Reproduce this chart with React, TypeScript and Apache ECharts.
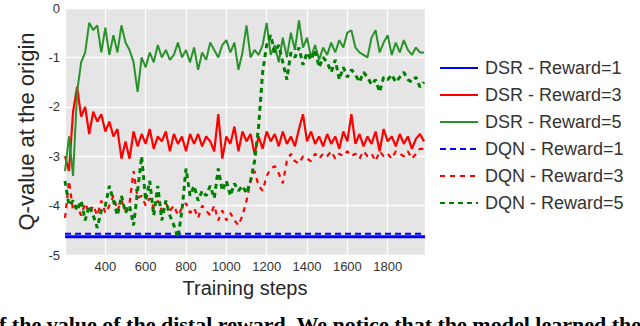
import React, { useEffect, useRef } from "react";
import * as echarts from "echarts";

const steps: number[] = [
  200, 220, 240, 260, 280, 300, 320, 340, 360, 380,
  400, 420, 440, 460, 480, 500, 520, 540, 560, 580,
  600, 620, 640, 660, 680, 700, 720, 740, 760, 780,
  800, 820, 840, 860, 880, 900, 920, 940, 960, 980,
  1000, 1020, 1040, 1060, 1080, 1100, 1120, 1140, 1160, 1180,
  1200, 1220, 1240, 1260, 1280, 1300, 1320, 1340, 1360, 1380,
  1400, 1420, 1440, 1460, 1480, 1500, 1520, 1540, 1560, 1580,
  1600, 1620, 1640, 1660, 1680, 1700, 1720, 1740, 1760, 1780,
  1800, 1820, 1840, 1860, 1880, 1900, 1920, 1940, 1960, 1980,
];

const dsrReward5: number[] = [
  -3.3, -2.6, -3.4, -1.7, -1.1, -0.9, -0.3, -0.45, -0.35, -0.9,
  -0.4, -0.95, -0.55, -0.9, -0.35, -0.7, -0.85, -1.1, -1.7, -1.0,
  -1.2, -0.9, -1.1, -0.75, -1.0, -0.85, -1.05, -0.95, -0.7, -1.0,
  -0.85, -1.1, -0.8, -1.25, -0.9, -1.05, -0.7, -0.85, -1.0, -0.75,
  -0.65, -0.9, -0.7, -1.25, -0.9, -0.35, -1.0, -0.85, -0.95, -0.75,
  -0.3, -0.95, -0.75, -1.1, -0.6, -1.0, -0.5, -0.85, -0.25, -0.8,
  -0.6, -1.0, -0.75, -1.05, -0.8, -0.95, -0.7, -0.9, -0.65, -0.8,
  -0.5, -0.45, -0.8, -0.9, -0.95, -1.0, -0.6, -0.45, -0.9, -0.7,
  -0.55, -0.95, -0.7, -0.9, -0.65, -0.85, -0.95, -0.8, -0.9, -0.9,
];

const dqnReward5: number[] = [
  -3.5, -4.0, -3.9, -4.1, -3.9, -4.3, -4.0, -4.2, -4.45, -4.1,
  -4.0, -3.6, -3.9, -4.2, -3.8, -4.15, -4.0, -4.4, -3.7, -3.0,
  -3.9, -3.5, -4.2, -3.6, -4.3, -3.9, -4.2, -4.4, -4.65, -4.1,
  -3.25, -3.8, -3.6, -3.9, -3.7, -3.8, -3.6, -3.85, -3.25, -3.7,
  -3.5, -3.8, -3.55, -3.7, -3.6, -3.75, -3.5, -3.1, -2.4, -1.3,
  -0.75, -0.55, -0.9, -0.75, -1.1, -1.45, -0.9, -1.0, -0.8, -1.15,
  -0.9, -1.05, -0.85, -1.2, -1.0, -1.1, -1.3, -1.05, -1.45, -1.2,
  -1.4, -1.25, -1.35, -1.5, -1.3, -1.4, -1.55, -1.45, -1.7, -1.4,
  -1.45, -1.35, -1.5, -1.4, -1.3, -1.45, -1.5, -1.4, -1.6, -1.5,
];

const dsrReward3: number[] = [
  -3.0, -3.3, -2.1, -1.6, -2.2, -2.0, -2.55, -2.1, -2.3, -2.15,
  -2.5, -2.3, -2.6, -2.45, -3.05, -2.7, -3.05, -2.5, -2.8, -2.55,
  -2.75, -2.45, -2.85, -2.6, -2.7, -2.5, -2.9, -2.55, -2.75, -2.6,
  -2.9, -2.55, -2.75, -2.55, -2.8, -2.6, -2.7, -2.9, -2.15, -3.05,
  -2.6, -2.75, -2.4, -2.9, -2.5, -2.7, -2.55, -2.95, -2.6, -2.85,
  -2.5, -2.7, -2.55, -2.8, -2.5, -2.75, -2.6, -2.8, -2.45, -2.15,
  -2.7, -2.5, -2.75, -2.6, -2.8, -2.55, -2.75, -2.6, -2.85, -2.5,
  -2.7, -2.15, -2.75, -2.55, -2.8, -2.6, -2.75, -2.5, -2.9, -2.45,
  -2.7, -2.6, -2.8, -2.55, -2.75, -2.6, -2.85, -2.65, -2.55, -2.7,
];

const dqnReward3: number[] = [
  -4.25, -3.5, -4.1, -4.0, -4.2, -3.95, -4.15, -4.0, -4.2, -3.9,
  -4.15, -4.0, -3.8, -4.1, -3.9, -4.1, -3.95, -3.3, -3.85, -3.8,
  -4.0, -3.85, -4.05, -3.9, -4.1, -3.95, -4.1, -4.0, -4.2, -4.05,
  -3.95, -4.15, -4.05, -4.25, -4.0, -4.1, -4.2, -4.0, -4.3, -4.1,
  -4.3, -4.15, -4.3, -4.4, -4.2, -3.9, -3.5, -3.3, -3.6, -3.7,
  -3.4, -3.25, -3.2, -3.35, -3.55, -3.1, -2.95, -3.1, -3.15, -3.0,
  -3.05, -3.1, -2.95, -3.05, -2.95, -3.0, -2.9, -3.05, -2.95, -3.0,
  -2.9, -3.0, -2.95, -3.05, -2.9, -3.0, -2.95, -3.1, -2.9, -3.0,
  -2.95, -3.05, -2.9, -2.95, -3.0, -2.9, -3.05, -2.95, -2.85, -2.85,
];

// Reward=1 curves are flat lines: [step, value] end points
const dsrReward1: [number, number][] = [[200, -4.63], [1985, -4.63]];
const dqnReward1: [number, number][] = [[200, -4.57], [1985, -4.57]];

const seriesNames: string[] = [
  "DSR - Reward=1",
  "DSR - Reward=3",
  "DSR - Reward=5",
  "DQN - Reward=1",
  "DQN - Reward=3",
  "DQN - Reward=5",
];

const xTitle = "Training steps";
const yTitle = "Q-value at the origin";
const captionText = "f the value of the distal reward. We notice that the model learned the";

const pair = (ys: number[]) => steps.map((s, i) => [s, ys[i]]);

export default function App() {
  const ref = useRef<HTMLDivElement>(null);
  useEffect(() => {
    if (!ref.current) return;
    const chart = echarts.init(ref.current, undefined, { renderer: "svg" });
    const font = "'Liberation Sans', Arial, sans-serif";
    const mk = (name: string, data: any, color: string, width: number, type: any) => ({
      name,
      type: "line",
      data,
      symbol: "none",
      showSymbol: false,
      lineStyle: { color, width, type },
      itemStyle: { color },
      z: 3,
    });
    chart.setOption({
      animation: false,
      backgroundColor: "#ffffff",
      grid: {
        left: 65,
        right: 215,
        top: 8,
        bottom: 71,
        show: true,
        backgroundColor: "#E5E5E5",
        borderWidth: 0,
      },
      xAxis: {
        type: "value",
        min: 200,
        max: 1985,
        interval: 200,
        name: xTitle,
        nameLocation: "middle",
        nameGap: 23,
        nameTextStyle: { fontFamily: font, fontSize: 20, color: "#262626" },
        axisLine: { show: false },
        axisTick: { show: false },
        axisLabel: {
          showMinLabel: false,
          showMaxLabel: false,
          margin: 5,
          fontFamily: font,
          fontSize: 13,
          color: "#333333",
          formatter: (v: number) => String(v),
        },
        splitLine: { show: true, lineStyle: { color: "#ffffff", width: 1.3 } },
      },
      yAxis: {
        type: "value",
        min: -5,
        max: 0,
        interval: 1,
        name: yTitle,
        nameLocation: "middle",
        nameRotate: 90,
        nameGap: 26,
        nameTextStyle: { fontFamily: font, fontSize: 22, color: "#262626" },
        axisLine: { show: false },
        axisTick: { show: false },
        axisLabel: {
          margin: 5,
          fontFamily: font,
          fontSize: 13,
          color: "#333333",
          formatter: (v: number) => String(v),
        },
        splitLine: { show: true, lineStyle: { color: "#ffffff", width: 1.3 } },
      },
      legend: {
        orient: "vertical",
        left: 434,
        top: 54,
        itemWidth: 38,
        itemHeight: 14,
        itemGap: 9,
        data: seriesNames,
        itemStyle: { opacity: 0 },
        textStyle: { fontFamily: font, fontSize: 18, color: "#333333", padding: [0, 0, 0, 2] },
      },
      graphic: [
        {
          type: "text",
          left: -1,
          top: 313,
          style: {
            text: captionText,
            fontFamily: "'Liberation Serif', 'DejaVu Serif', serif",
            fontWeight: "bold",
            fontSize: 22,
            fill: "#000000",
          },
        },
      ],
      series: [
        mk(seriesNames[0], dsrReward1, "#0000FF", 3, "solid"),
        mk(seriesNames[1], pair(dsrReward3), "#FF0000", 2.2, "solid"),
        mk(seriesNames[2], pair(dsrReward5), "#2A922A", 2, "solid"),
        mk(seriesNames[3], dqnReward1, "#0000FF", 2, [6, 4]),
        mk(seriesNames[4], pair(dqnReward3), "#FF0000", 2.2, [5, 5]),
        mk(seriesNames[5], pair(dqnReward5), "#008000", 3, [5, 4]),
      ],
    });
    return () => chart.dispose();
  }, []);
  return (
    <div
      ref={ref}
      style={{ position: "fixed", left: 0, top: 0, width: 640, height: 326 }}
    />
  );
}
